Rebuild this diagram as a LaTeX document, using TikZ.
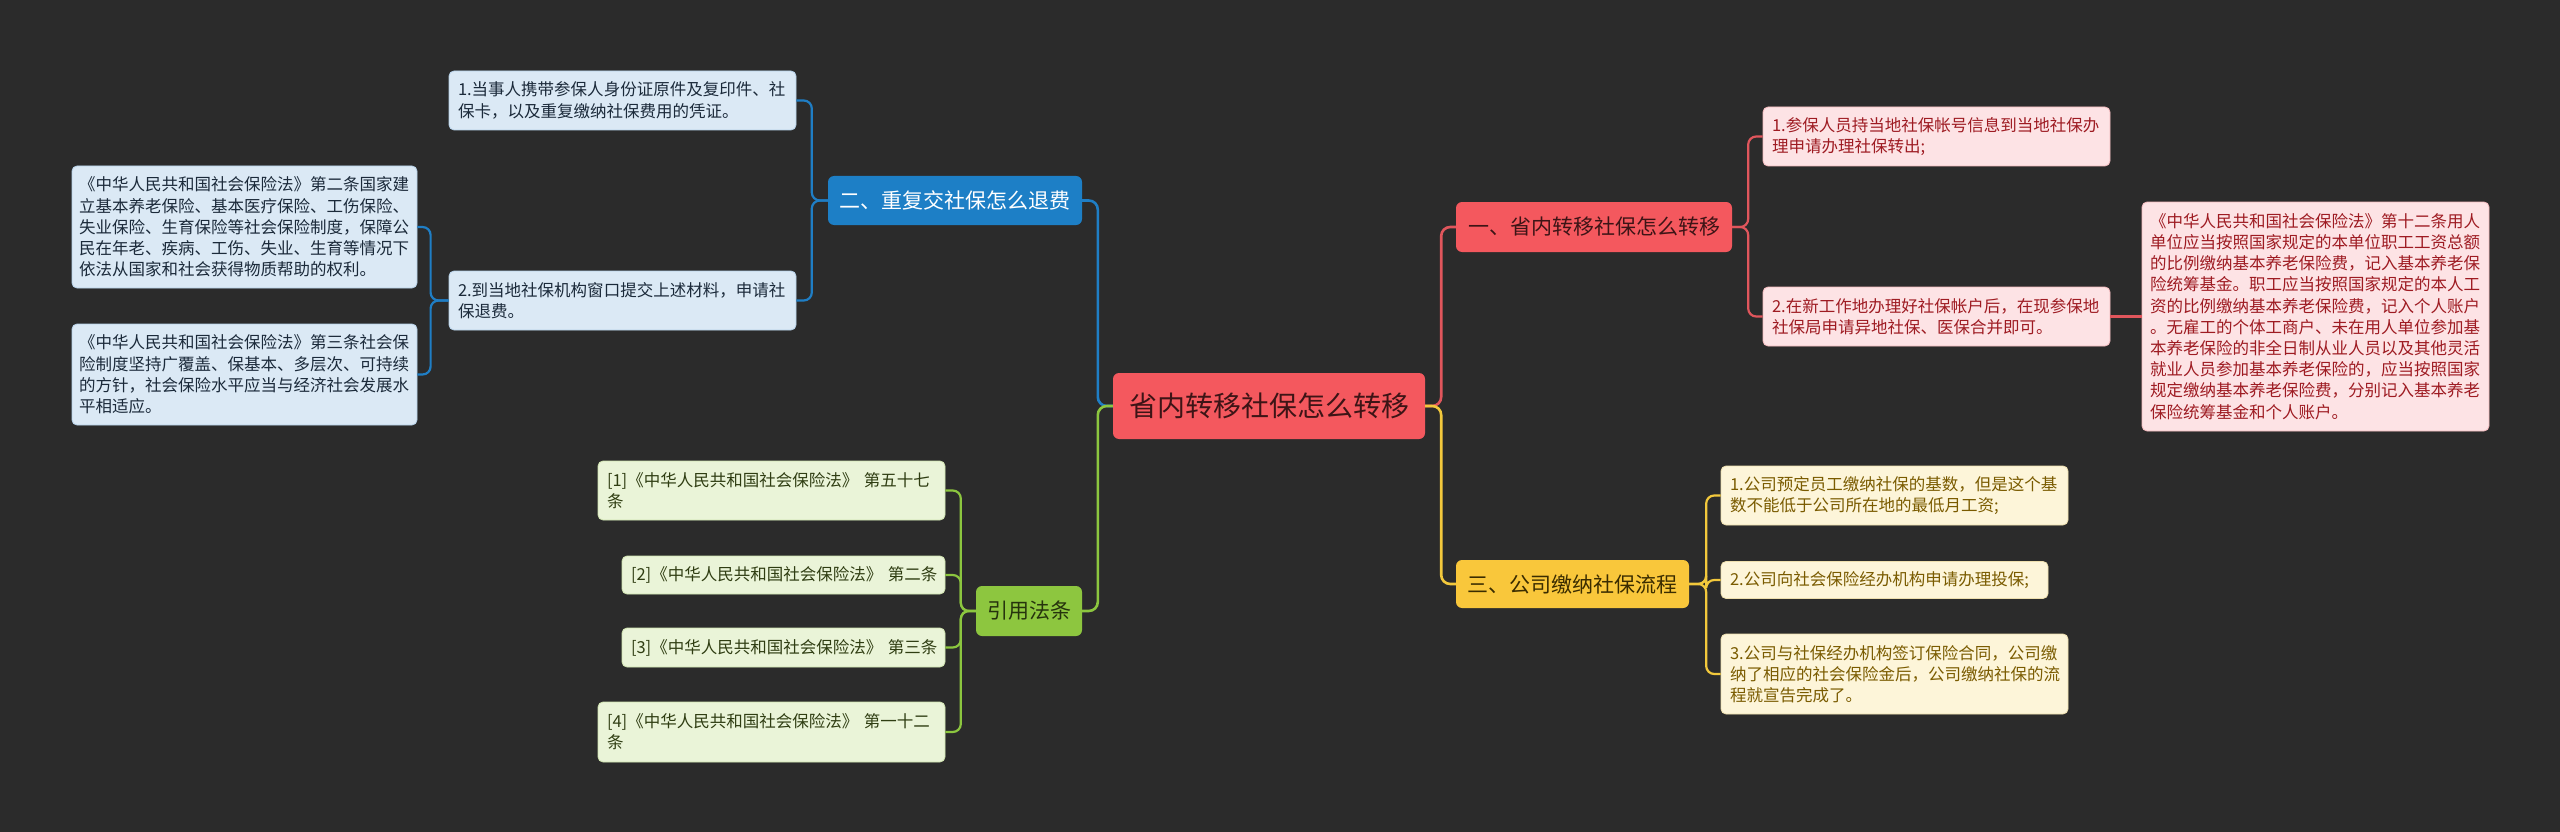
\documentclass[tikz,border=0pt]{standalone}
\usepackage{fontspec}
\setmainfont{Noto Sans CJK SC}
\definecolor{bg}{HTML}{2B2B2B}
\definecolor{redmain}{HTML}{F4585E}
\definecolor{redline}{HTML}{E0565C}
\definecolor{pinkfill}{HTML}{FDE3E5}
\definecolor{pinkdraw}{HTML}{F3B9BD}
\definecolor{pinktext}{HTML}{9E1B22}
\definecolor{darkred}{HTML}{3D1416}
\definecolor{bluemain}{HTML}{1D7FC6}
\definecolor{blueline}{HTML}{1F7EC5}
\definecolor{bluefill}{HTML}{DBE9F5}
\definecolor{bluedraw}{HTML}{B5D0E8}
\definecolor{bluetext}{HTML}{1B2A3A}
\definecolor{yelmain}{HTML}{F9C73B}
\definecolor{yelline}{HTML}{F2C83C}
\definecolor{yelfill}{HTML}{FDF5D9}
\definecolor{yeldraw}{HTML}{EEDFAE}
\definecolor{yeltext}{HTML}{7A5B00}
\definecolor{yeldark}{HTML}{3A2C00}
\definecolor{grnmain}{HTML}{8DC63F}
\definecolor{grnline}{HTML}{8CC63F}
\definecolor{grnfill}{HTML}{EAF4D8}
\definecolor{grndraw}{HTML}{CFE3AF}
\definecolor{grntext}{HTML}{2F3D12}
\definecolor{grndark}{HTML}{26330D}
\newcommand{\leaffont}{\fontsize{16.5}{21.2}\selectfont}
\newcommand{\mainfont}{\fontsize{21}{25}\selectfont}
\begin{document}
\begin{tikzpicture}[x=1pt,y=-1pt,
  box/.style={rounded corners=5pt, inner xsep=9pt, inner ysep=0pt, align=left, anchor=center, font=\leaffont, line width=0.8pt},
  leafR/.style={box, fill=pinkfill, draw=pinkdraw, text=pinktext},
  leafB/.style={box, fill=bluefill, draw=bluedraw, text=bluetext},
  leafY/.style={box, fill=yelfill, draw=yeldraw, text=yeltext},
  leafG/.style={box, fill=grnfill, draw=grndraw, text=grntext},
  topic/.style={rounded corners=6pt, inner xsep=10pt, inner ysep=0pt, align=center, anchor=center, font=\mainfont},
  conn/.style={line width=2.2pt, rounded corners=8pt},
  mconn/.style={line width=2.6pt, rounded corners=9pt}
]
\fill[bg] (0,0) rectangle (2560,832);
\useasboundingbox (0,0) rectangle (2560,832);

% central
\node[topic, fill=redmain, text=darkred, font=\fontsize{28}{32}\selectfont, minimum width=312pt, minimum height=66pt] (c) at (1269,406) {省内转移社保怎么转移};

% first level
\node[topic, fill=redmain, text=darkred, minimum width=276pt, minimum height=50pt] (rn) at (1594,227) {一、省内转移社保怎么转移};
\node[topic, fill=yelmain, text=yeldark, minimum width=233pt, minimum height=48pt] (yn) at (1572.5,584) {三、公司缴纳社保流程};
\node[topic, fill=bluemain, text=white, minimum width=254pt, minimum height=49pt] (bn) at (955,200.5) {二、重复交社保怎么退费};
\node[topic, fill=grnmain, text=grndark, minimum width=106pt, minimum height=50pt] (gn) at (1029,611) {引用法条};

% red leaves
\node[leafR, text width=329pt, minimum height=59pt] (p1) at (1936.5,136.5) {1.参保人员持当地社保帐号信息到当地社保办\\理申请办理社保转出;};
\node[leafR, text width=329pt, minimum height=59pt] (p2) at (1936.5,316.5) {2.在新工作地办理好社保帐户后，在现参保地\\社保局申请异地社保、医保合并即可。};
\node[leafR, inner xsep=8pt, text width=331pt, minimum height=229pt] (law12) at (2315.5,316.5) {《中华人民共和国社会保险法》第十二条用人\\单位应当按照国家规定的本单位职工工资总额\\的比例缴纳基本养老保险费，记入基本养老保\\险统筹基金。职工应当按照国家规定的本人工\\资的比例缴纳基本养老保险费，记入个人账户\\。无雇工的个体工商户、未在用人单位参加基\\本养老保险的非全日制从业人员以及其他灵活\\就业人员参加基本养老保险的，应当按照国家\\规定缴纳基本养老保险费，分别记入基本养老\\保险统筹基金和个人账户。};

% yellow leaves
\node[leafY, text width=329pt, minimum height=59pt] (y1) at (1894.5,495.5) {1.公司预定员工缴纳社保的基数，但是这个基\\数不能低于公司所在地的最低月工资;};
\node[leafY, text width=309pt, minimum height=37pt] (y2) at (1884.5,580) {\mbox{2.公司向社会保险经办机构申请办理投保;}};
\node[leafY, text width=329pt, minimum height=80pt] (y3) at (1894.5,674) {3.公司与社保经办机构签订保险合同，公司缴\\纳了相应的社会保险金后，公司缴纳社保的流\\程就宣告完成了。};

% blue leaves
\node[leafB, text width=329pt, minimum height=59pt] (b1) at (622.5,100.5) {1.当事人携带参保人身份证原件及复印件、社\\保卡，以及重复缴纳社保费用的凭证。};
\node[leafB, text width=329pt, minimum height=59pt] (b2) at (622.5,300.5) {2.到当地社保机构窗口提交上述材料，申请社\\保退费。};
\node[leafB, inner xsep=7pt, text width=331pt, minimum height=122pt] (l2) at (244.5,227) {《中华人民共和国社会保险法》第二条国家建\\立基本养老保险、基本医疗保险、工伤保险、\\失业保险、生育保险等社会保险制度，保障公\\民在年老、疾病、工伤、失业、生育等情况下\\依法从国家和社会获得物质帮助的权利。};
\node[leafB, inner xsep=7pt, text width=331pt, minimum height=101pt] (l3) at (244.5,374.5) {《中华人民共和国社会保险法》第三条社会保\\险制度坚持广覆盖、保基本、多层次、可持续\\的方针，社会保险水平应当与经济社会发展水\\平相适应。};

% green leaves
\node[leafG, text width=329pt, minimum height=59pt] (g1) at (771.5,490.5) {\mbox{[1]《中华人民共和国社会保险法》 第五十七}\\条};
\node[leafG, text width=305pt, minimum height=38pt] (g2) at (783.5,575) {\mbox{[2]《中华人民共和国社会保险法》 第二条}};
\node[leafG, text width=305pt, minimum height=39pt] (g3) at (783.5,647.5) {\mbox{[3]《中华人民共和国社会保险法》 第三条}};
\node[leafG, text width=329pt, minimum height=60pt] (g4) at (771.5,732) {\mbox{[4]《中华人民共和国社会保险法》 第一十二}\\条};

% connectors from central
\draw[mconn, blueline] (c.west) -- ++(-15,0) |- (bn.east);
\draw[mconn, grnline] (c.west) -- ++(-15,0) |- (gn.east);
\draw[mconn, redline] (c.east) -- ++(16,0) |- (rn.west);
\draw[mconn, yelline] (c.east) -- ++(16,0) |- (yn.west);

% red branch
\draw[conn, redline] (rn.east) -- ++(16,0) |- (p1.west);
\draw[conn, redline] (rn.east) -- ++(16,0) |- (p2.west);
\draw[conn, redline] (p2.east) -- (law12.west);

% yellow branch
\draw[conn, yelline] (yn.east) -- ++(17,0) |- (y1.west);
\draw[conn, yelline] (yn.east) -- ++(17,0) |- (y2.west);
\draw[conn, yelline] (yn.east) -- ++(17,0) |- (y3.west);

% blue branch
\draw[conn, blueline] (bn.west) -- ++(-16,0) |- (b1.east);
\draw[conn, blueline] (bn.west) -- ++(-16,0) |- (b2.east);
\draw[conn, blueline] (b2.west) -- ++(-18,0) |- (l2.east);
\draw[conn, blueline] (b2.west) -- ++(-18,0) |- (l3.east);

% green branch
\draw[conn, grnline] (gn.west) -- ++(-15,0) |- (g1.east);
\draw[conn, grnline] (gn.west) -- ++(-15,0) |- (g2.east);
\draw[conn, grnline] (gn.west) -- ++(-15,0) |- (g3.east);
\draw[conn, grnline] (gn.west) -- ++(-15,0) |- (g4.east);
\end{tikzpicture}
\end{document}
